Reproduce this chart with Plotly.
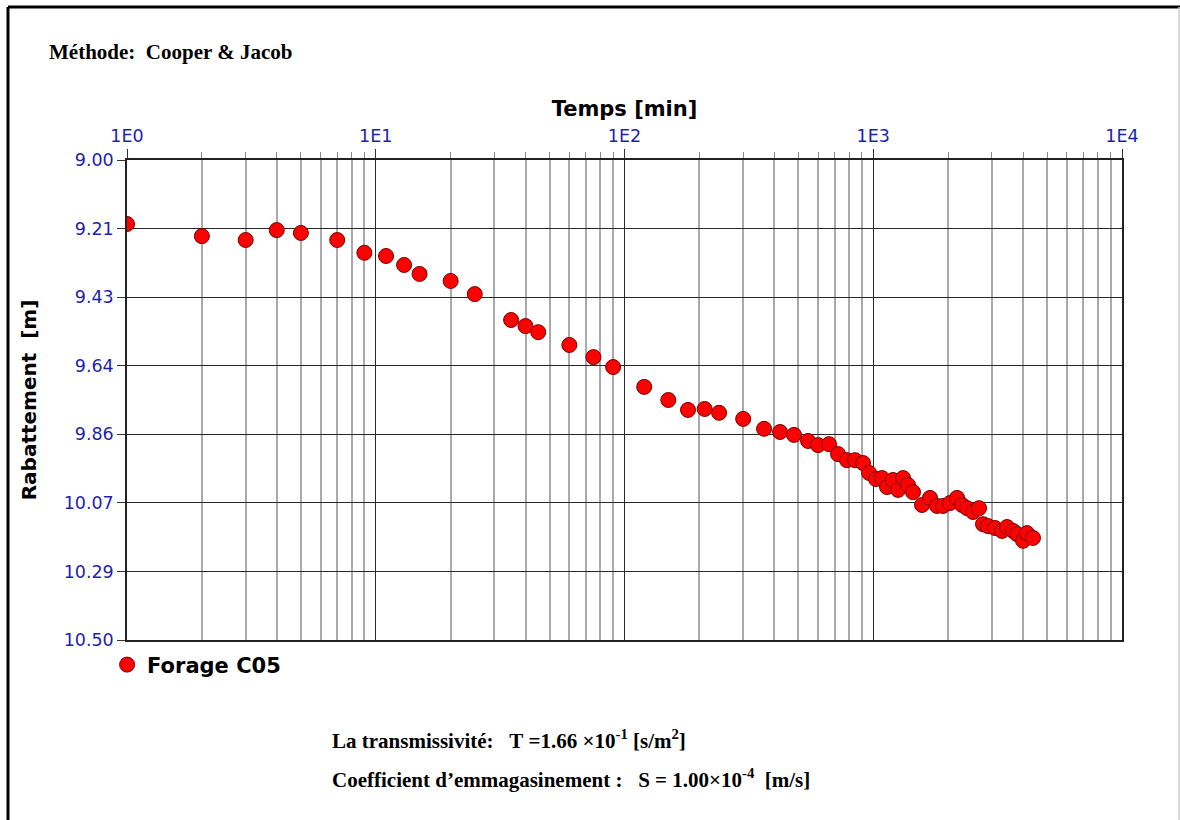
import plotly.graph_objects as go

# ---- data ----
temps_min = [1, 2, 3, 4, 5, 7, 9, 11, 13, 15, 20, 25,
             35, 40, 45, 60, 75, 90, 120, 150, 180, 210, 240, 300,
             364, 422, 480, 547, 600, 664, 722, 784, 845, 910, 962,
             1026, 1084, 1136, 1200, 1258, 1318, 1380, 1445, 1571, 1691,
             1804, 1907, 2035, 2172, 2275, 2383, 2519, 2663, 2762, 2893,
             3085, 3293, 3450, 3647, 3785, 4002, 4150, 4387]
rabattement_m = [9.20, 9.238, 9.25, 9.219, 9.228, 9.25, 9.29, 9.30, 9.328, 9.356, 9.378, 9.419,
                 9.50, 9.519, 9.538, 9.578, 9.616, 9.647, 9.709, 9.75, 9.781, 9.778, 9.79, 9.809,
                 9.84, 9.85, 9.859, 9.878, 9.891, 9.888, 9.919, 9.938, 9.938, 9.947, 9.978,
                 9.997, 9.994, 10.022, 10.0, 10.031, 9.994, 10.016, 10.038, 10.078, 10.056,
                 10.081, 10.081, 10.072, 10.056, 10.078, 10.088, 10.10, 10.088, 10.138, 10.144,
                 10.15, 10.159, 10.147, 10.159, 10.169, 10.19, 10.166, 10.181]

x_major_vals = [1, 10, 100, 1000, 10000]
x_major_text = ["1E0", "1E1", "1E2", "1E3", "1E4"]
x_minor_vals = [2, 3, 4, 5, 6, 7, 8, 9,
                20, 30, 40, 50, 60, 70, 80, 90,
                200, 300, 400, 500, 600, 700, 800, 900,
                2000, 3000, 4000, 5000, 6000, 7000, 8000, 9000]
y_tick_vals = [9.0, 9.2143, 9.4286, 9.6429, 9.8571, 10.0714, 10.2857, 10.5]
y_tick_text = ["9.00", "9.21", "9.43", "9.64", "9.86", "10.07", "10.29", "10.50"]

series_name = "Forage C05"
title_text = "Méthode:\u00a0 Cooper & Jacob"
line_T = "La transmissivité:\u00a0\u00a0\u00a0T\u00a0=1.66 ×10<sup>-1</sup>\u00a0[s/m<sup>2</sup>]"
line_S = "Coefficient d\u2019emmagasinement :\u00a0\u00a0\u00a0S = 1.00×10<sup>-4</sup>\u00a0\u00a0[m/s]"

TICK_BLUE = "#1f1fae"

fig = go.Figure()
fig.add_trace(go.Scatter(
    x=temps_min, y=rabattement_m, mode="markers", name=series_name,
    marker=dict(size=15, color="#ff0000", line=dict(color="#7a0000", width=1)),
))

fig.update_layout(
    width=1180, height=820,
    margin=dict(l=127, r=58, t=160, b=180),
    paper_bgcolor="white", plot_bgcolor="white",
    showlegend=True,
    legend=dict(orientation="h", x=-0.02, xanchor="left", y=-0.052, yanchor="middle",
                font=dict(family="DejaVu Sans", size=21, color="black", weight="bold"),
                bgcolor="rgba(0,0,0,0)"),
    xaxis=dict(
        type="log", range=[0, 4], side="top",
        tickmode="array", tickvals=x_major_vals, ticktext=x_major_text,
        tickfont=dict(family="DejaVu Sans", size=17.5, color=TICK_BLUE),
        ticks="outside", ticklen=9, tickcolor="#333", tickwidth=1,
        showgrid=True, gridcolor="#2a2a2a", gridwidth=1,
        minor=dict(tickmode="array", tickvals=x_minor_vals, showgrid=True,
                   gridcolor="#aaaaaa", gridwidth=1.5, ticks="outside", ticklen=6,
                   tickcolor="#888"),
        showline=True, linecolor="#222", linewidth=1.5, mirror=True,
        zeroline=False,
        title=dict(text="<b>Temps [min]</b>", font=dict(family="DejaVu Sans", size=21, color="black"),
                   standoff=4),
    ),
    yaxis=dict(
        range=[10.5, 9.0],
        tickmode="array", tickvals=y_tick_vals, ticktext=y_tick_text,
        tickfont=dict(family="DejaVu Sans", size=17.5, color=TICK_BLUE),
        ticks="outside", ticklen=8, tickcolor="#333",
        showgrid=True, gridcolor="#2a2a2a", gridwidth=1,
        showline=True, linecolor="#222", linewidth=1.5, mirror=True,
        zeroline=False,
        title=dict(text="<b>Rabattement\u00a0 [m]</b>", font=dict(family="DejaVu Sans", size=20, color="black"),
                   standoff=22),
    ),
)

fig.add_annotation(text="<b>" + title_text + "</b>", xref="paper", yref="paper",
                   x=-0.0804, y=1.225, xanchor="left", yanchor="middle", showarrow=False,
                   font=dict(family="Liberation Serif", size=21, color="black"))
fig.add_annotation(text="<b>" + line_T + "</b>", xref="paper", yref="paper",
                   x=0.204, y=-0.2083, xanchor="left", yanchor="middle", showarrow=False,
                   font=dict(family="Liberation Serif", size=21, color="black"))
fig.add_annotation(text="<b>" + line_S + "</b>", xref="paper", yref="paper",
                   x=0.204, y=-0.2875, xanchor="left", yanchor="middle", showarrow=False,
                   font=dict(family="Liberation Serif", size=21, color="black"))

# outer frame of the figure
fig.add_shape(type="line", xref="paper", yref="paper", x0=-0.1196, x1=-0.1196, y0=1.3188, y1=-0.40,
              line=dict(color="black", width=3))
fig.add_shape(type="line", xref="paper", yref="paper", x0=-0.1196, x1=1.06, y0=1.3188, y1=1.3188,
              line=dict(color="black", width=3))
fig.add_shape(type="line", xref="paper", yref="paper", x0=1.0573, x1=1.0573, y0=1.3188, y1=-0.40,
              line=dict(color="#cccccc", width=1.5))

fig.write_html("out.html")
